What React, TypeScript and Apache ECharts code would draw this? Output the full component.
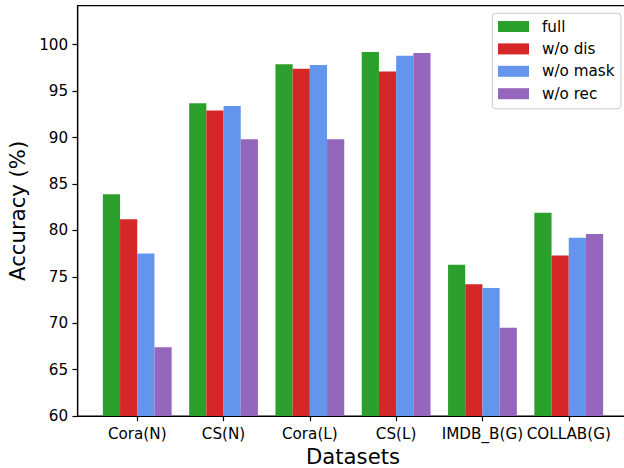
import React, { useEffect, useRef } from "react";
import * as echarts from "echarts";

const categories = ["Cora(N)", "CS(N)", "Cora(L)", "CS(L)", "IMDB_B(G)", "COLLAB(G)"];
const seriesNames = ["full", "w/o dis", "w/o mask", "w/o rec"];
const fullVals = [83.9, 93.7, 97.9, 99.2, 76.3, 81.9];
const woDisVals = [81.2, 92.9, 97.4, 97.1, 74.2, 77.3];
const woMaskVals = [77.5, 93.4, 97.8, 98.8, 73.8, 79.2];
const woRecVals = [67.4, 89.8, 89.8, 99.1, 69.5, 79.6];
const yTicks = [60, 65, 70, 75, 80, 85, 90, 95, 100];
const colors = ["#2ca02c", "#d62728", "#6495ed", "#9467bd"];

const FONT = "DejaVu Sans";
const TICK_FS = 15.2;
const LABEL_FS = 21.2;

export default function App() {
  const ref = useRef<HTMLDivElement>(null);
  useEffect(() => {
    if (!ref.current) return;
    const chart = echarts.init(ref.current, null, { renderer: "svg" });
    const all = [fullVals, woDisVals, woMaskVals, woRecVals];
    const xIdx = categories.map((_, i) => i);
    chart.setOption({
      animation: false,
      backgroundColor: "#ffffff",
      grid: {
        left: 77.7,
        top: 5.7,
        width: 550.6,
        height: 410.3,
        outerBoundsMode: "none",
        containLabel: false,
        show: true,
        borderColor: "#000",
        borderWidth: 1.2,
        backgroundColor: "transparent",
      },
      legend: {
        orient: "vertical",
        left: 492.3,
        top: 13.3,
        data: seriesNames,
        icon: "rect",
        itemWidth: 31,
        itemHeight: 11,
        itemGap: 5.4,
        padding: [4.7, 6.5, 6.6, 5.7],
        backgroundColor: "rgba(255,255,255,0.8)",
        borderColor: "#cccccc",
        borderWidth: 1,
        borderRadius: 3,
        textStyle: {
          fontFamily: FONT,
          fontSize: TICK_FS,
          color: "#000",
          lineHeight: 17,
          padding: [0, 0, 0, 8],
        },
      },
      xAxis: {
        type: "value",
        min: -0.69,
        max: 5.69,
        splitLine: { show: false },
        axisLine: { show: true, onZero: false, lineStyle: { color: "#000", width: 1.2 } },
        axisTick: {
          show: true,
          length: 5.3,
          lineStyle: { color: "#000", width: 1.2 },
          customValues: xIdx,
        },
        axisLabel: {
          customValues: xIdx,
          formatter: (v: number) => categories[Math.round(v)] ?? "",
          fontFamily: FONT,
          fontSize: TICK_FS,
          color: "#000",
          margin: 10,
        },
        name: "Datasets",
        nameLocation: "middle",
        nameGap: 30.5,
        nameTextStyle: { fontFamily: FONT, fontSize: LABEL_FS, color: "#000", lineHeight: 18 },
      },
      yAxis: {
        type: "value",
        min: 60,
        max: 104.2,
        splitLine: { show: false },
        axisLine: { show: true, onZero: false, lineStyle: { color: "#000", width: 1.2 } },
        axisTick: {
          show: true,
          length: 5.3,
          lineStyle: { color: "#000", width: 1.2 },
          customValues: yTicks,
        },
        axisLabel: {
          customValues: yTicks,
          fontFamily: FONT,
          fontSize: TICK_FS,
          color: "#000",
          margin: 9.5,
        },
        name: "Accuracy (%)",
        nameLocation: "middle",
        nameGap: 47,
        nameTextStyle: { fontFamily: FONT, fontSize: LABEL_FS, color: "#000" },
      },
      series: seriesNames.map((name, j) => ({
        name,
        type: "bar",
        barWidth: 17.2,
        barGap: "0%",
        itemStyle: { color: colors[j] },
        data: all[j].map((v, i) => [i, v]),
      })),
    });
    return () => chart.dispose();
  }, []);
  return (
    <div
      ref={ref}
      style={{ position: "fixed", left: 0, top: 0, width: 624, height: 468 }}
    />
  );
}
